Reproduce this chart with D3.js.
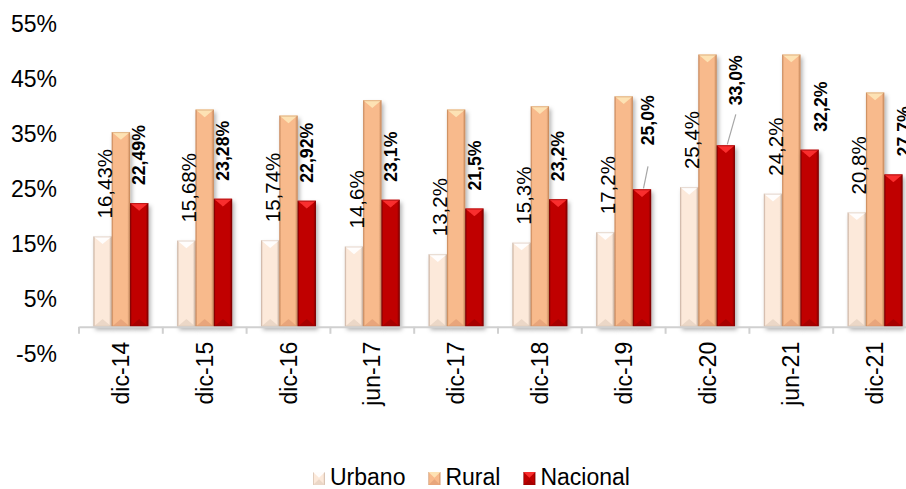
<!DOCTYPE html>
<html><head><meta charset="utf-8">
<script src="https://cdn.jsdelivr.net/npm/d3@7"></script>
<style>html,body{margin:0;padding:0;background:#fff;overflow:hidden}svg{display:block;font-family:"Liberation Sans",Arial,sans-serif}</style>
</head><body><svg id="c" width="906" height="489"></svg>
<script>
// ---- data ----
const categories = ["dic-14","dic-15","dic-16","jun-17","dic-17","dic-18","dic-19","dic-20","jun-21","dic-21"];
const seriesNames = ["Urbano","Rural","Nacional"];
const urbano   = [16.43,15.68,15.74,14.6,13.2,15.3,17.2,25.4,24.2,20.8];
const rural    = [35.4,39.5,38.4,41.2,39.5,40.1,41.9,49.5,49.5,42.6];
const nacional = [22.49,23.28,22.92,23.1,21.5,23.2,25.0,33.0,32.2,27.7];
const labelDecimals = [2,2,2,1,1,1,1,1,1,1];
const yTicks = [-5,5,15,25,35,45,55];

// ---- layout / style ----
const W = 906, H = 489;
const svg = d3.select("#c");
const defs = svg.append("defs");
const palettes = {
  Urbano:   {main:"#FCE9DA", edge:"#CDB6A5", top:"#FFFFFF", bottom:"#E6D2C2"},
  Rural:    {main:"#F8BA8C", edge:"#C98B5E", top:"#FDE7B8", bottom:"#E3A077"},
  Nacional: {main:"#C00000", edge:"#7E0000", top:"#FF3333", bottom:"#A00000"}
};
Object.entries(palettes).forEach(([k,p])=>{
  const g = defs.append("linearGradient").attr("id","g"+k).attr("x1",0).attr("x2",1).attr("y1",0).attr("y2",0);
  [[0,p.edge],[0.1,p.main],[0.85,p.main],[1,p.edge]].forEach(([o,c])=>g.append("stop").attr("offset",o).attr("stop-color",c));
});
const f = defs.append("filter").attr("id","sh").attr("x","-50%").attr("y","-10%").attr("width","200%").attr("height","130%");
f.append("feDropShadow").attr("dx",2).attr("dy",3).attr("stdDeviation",2).attr("flood-color","#000").attr("flood-opacity",0.3);

const x0 = d3.scaleBand().domain(categories).range([79, 917]).padding(0);
const x1 = d3.scaleBand().domain(seriesNames).range([0, x0.bandwidth()]).paddingInner(0).paddingOuter(0.79);
const y = d3.scaleLinear().domain([-5, 55]).range([354.3, 24.3]);

// y axis labels
const ya = svg.append("g").attr("transform","translate(57,0)")
  .call(d3.axisLeft(y).tickValues(yTicks).tickFormat(d=>d+"%").tickSize(0).tickPadding(0));
ya.select(".domain").remove();
ya.selectAll("text").attr("font-size",23).attr("fill","#000").attr("font-family",'"Liberation Sans",Arial,sans-serif');

function bevelBar(g, x, yTop, w, h, p, key){
  const bg = g.append("g").attr("filter","url(#sh)");
  bg.append("rect").attr("x",x).attr("y",yTop).attr("width",w).attr("height",h).attr("fill","url(#g"+key+")");
  const d = Math.min(w*0.42, h/2);
  bg.append("path").attr("d",`M${x},${yTop}L${x+w},${yTop}L${x+w/2},${yTop+d}Z`).attr("fill",p.top).attr("opacity",0.9);
  bg.append("path").attr("d",`M${x},${yTop+h}L${x+w},${yTop+h}L${x+w/2},${yTop+h-d}Z`).attr("fill",p.bottom).attr("opacity",0.8);
  bg.append("rect").attr("x",x+0.5).attr("y",yTop+0.5).attr("width",w-1).attr("height",h-1).attr("fill","none").attr("stroke",p.edge).attr("stroke-opacity",0.5).attr("stroke-width",1);
}

const seriesData = {Urbano: urbano, Rural: rural, Nacional: nacional};
const barsG = svg.append("g");
seriesNames.forEach(s=>{
  categories.forEach((c,i)=>{
    const v = seriesData[s][i];
    const xx = x0(c) + x1(s);
    bevelBar(barsG, xx, y(v), x1.bandwidth(), y(0)-y(v), palettes[s], s);
  });
});

// x axis
const xa = svg.append("g").attr("transform",`translate(0,${y(0)})`)
  .call(d3.axisBottom(x0).tickSize(0).tickPadding(0));
xa.select(".domain").attr("stroke","#D0D0D0").attr("stroke-width",2);
xa.selectAll("text").attr("font-size",23).attr("fill","#000").attr("font-family",'"Liberation Sans",Arial,sans-serif')
  .attr("text-anchor","end").attr("transform","translate(0,15) rotate(-90)").attr("dy","0.35em").attr("y",0).attr("x",0);
const bounds = categories.map(c=>x0(c)).concat([x0.range()[1]]);
xa.selectAll("line.bt").data(bounds).join("line").attr("class","bt")
  .attr("x1",d=>d).attr("x2",d=>d).attr("y1",0).attr("y2",7).attr("stroke","#D0D0D0").attr("stroke-width",2);

// data labels
const fmt = (v,i)=>v.toFixed(labelDecimals[i]).replace(".",",")+"%";
const labG = svg.append("g");
categories.forEach((c,i)=>{
  const v = urbano[i];
  const cx = x0(c)+x1("Urbano")+x1.bandwidth()/2 + 2.5;
  const ys = y(v)-18;
  labG.append("text").attr("transform",`translate(${cx},${ys}) rotate(-90)`).attr("dy","0.35em")
    .attr("font-size",20.5).attr("fill","#000").text(fmt(v,i));
});
// nudges for Nacional labels (dx, dy, leader gap) keyed by category index
const nacNudge = {6:{dx:6,dy:-26,lead:21}, 7:{dx:10,dy:-22,lead:9}, 8:{dx:11,dy:0}, 9:{dx:10,dy:0}};
categories.forEach((c,i)=>{
  const v = nacional[i];
  const bc = x0(c)+x1("Nacional")+x1.bandwidth()/2;
  const n = nacNudge[i] || {dx:0,dy:0};
  const cx = bc + n.dx;
  const ys = y(v)-18+n.dy;
  labG.append("text").attr("transform",`translate(${cx},${ys}) rotate(-90)`).attr("dy","0.35em")
    .attr("font-size",17.7).attr("font-weight","bold").attr("fill","#000").text(fmt(v,i));
  if(n.lead!==undefined){
    labG.append("line").attr("x1",cx).attr("y1",ys+n.lead).attr("x2",bc+1.5).attr("y2",y(v)-1)
      .attr("stroke","#A6A6A6").attr("stroke-width",1.2);
  }
});

// legend
const lg = svg.append("g");
let lx = 313;
seriesNames.forEach(s=>{
  const p = palettes[s];
  bevelBarLegend(lg, lx, 472, 12, 13, p, s);
  const t = lg.append("text").attr("x",lx+17).attr("y",485).attr("font-size",23).attr("fill","#000").text(s);
  lx += 17 + t.node().getComputedTextLength() + 23;
});
function bevelBarLegend(g,x,yy,w,h,p,key){
  g.append("rect").attr("x",x).attr("y",yy).attr("width",w).attr("height",h).attr("fill","url(#g"+key+")");
  g.append("path").attr("d",`M${x},${yy}L${x+w},${yy}L${x+w/2},${yy+h*0.45}Z`).attr("fill",p.top).attr("opacity",0.9);
  g.append("path").attr("d",`M${x},${yy+h}L${x+w},${yy+h}L${x+w/2},${yy+h*0.55}Z`).attr("fill",p.bottom).attr("opacity",0.8);
}
</script></body></html>
